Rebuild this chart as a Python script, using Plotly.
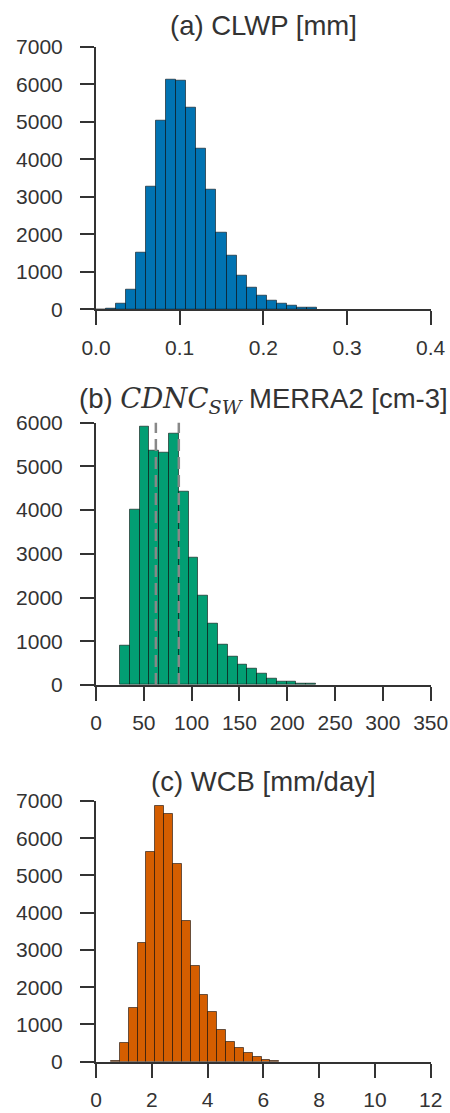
import plotly.graph_objects as go

# ---------------- data ----------------
# (a) CLWP [mm] histogram
clwp_left_edges = [0.000, 0.012, 0.024, 0.036, 0.048, 0.060, 0.072, 0.084, 0.096, 0.108,
                   0.120, 0.132, 0.144, 0.156, 0.168, 0.180, 0.192, 0.204, 0.216, 0.228,
                   0.240, 0.252]
clwp_counts = [0, 25, 140, 535, 1510, 3270, 5030, 6130, 6085, 5385,
               4280, 3180, 2045, 1420, 895, 585, 375, 230, 140, 95,
               55, 35]
clwp_bin_width = 0.012

# (b) CDNC_SW MERRA2 [cm-3] histogram
cdnc_left_edges = [25.0, 35.25, 45.5, 55.75, 66.0, 76.25, 86.5, 96.75, 107.0, 117.25,
                   127.5, 137.75, 148.0, 158.25, 168.5, 178.75, 189.0, 199.25, 209.5, 219.75]
cdnc_counts = [900, 4000, 5920, 5360, 5310, 5740, 4420, 2910, 2040, 1400,
               920, 650, 460, 380, 260, 150, 85, 70, 40, 25]
cdnc_bin_width = 10.25
cdnc_dashed_lines = [62.6, 86.6]

# (c) WCB [mm/day] histogram
wcb_left_edges = [0.54, 0.8575, 1.175, 1.4925, 1.81, 2.1275, 2.445, 2.7625, 3.08, 3.3975,
                  3.715, 4.0325, 4.35, 4.6675, 4.985, 5.3025, 5.62, 5.9375, 6.255]
wcb_counts = [30, 490, 1430, 3190, 5620, 6860, 6640, 5310, 3780, 2580,
              1790, 1340, 850, 540, 360, 230, 130, 50, 20]
wcb_bin_width = 0.3175

titles = ["(a) CLWP [mm]",
          "(b) <span style=\"font-family:DejaVu Serif\"><i>CDNC</i><sub><i>SW</i></sub></span> MERRA2 [cm-3]",
          "(c) WCB [mm/day]"]

x_ticks_a = [0.0, 0.1, 0.2, 0.3, 0.4]
x_ticks_b = [0, 50, 100, 150, 200, 250, 300, 350]
x_ticks_c = [0, 2, 4, 6, 8, 10, 12]
y_ticks_a = [0, 1000, 2000, 3000, 4000, 5000, 6000, 7000]
y_ticks_b = [0, 1000, 2000, 3000, 4000, 5000, 6000]
y_ticks_c = [0, 1000, 2000, 3000, 4000, 5000, 6000, 7000]

# ---------------- layout geometry (pixels) ----------------
W, H = 450, 1113
x_left, x_right = 96, 430.7
panels = [
    dict(edges=clwp_left_edges, counts=clwp_counts, bw=clwp_bin_width, color="#0173B2",
         top=46.7, bottom=309.3, xr=[0, 0.4], yr=[0, 7000], xt=x_ticks_a, yt=y_ticks_a,
         xfmt=".1f", title_y=26),
    dict(edges=cdnc_left_edges, counts=cdnc_counts, bw=cdnc_bin_width, color="#029E73",
         top=422.7, bottom=685.0, xr=[0, 350], yr=[0, 6000], xt=x_ticks_b, yt=y_ticks_b,
         xfmt="d", title_y=401),
    dict(edges=wcb_left_edges, counts=wcb_counts, bw=wcb_bin_width, color="#D55E00",
         top=801.0, bottom=1061.7, xr=[0, 12], yr=[0, 7000], xt=x_ticks_c, yt=y_ticks_c,
         xfmt="d", title_y=781),
]

axis_color = "#333333"
font_family = "Liberation Sans, Arial, sans-serif"

fig = go.Figure()
annotations = []
shapes = []
for i, p in enumerate(panels, start=1):
    xa = "x" if i == 1 else f"x{i}"
    ya = "y" if i == 1 else f"y{i}"
    fig.add_trace(go.Bar(
        x=p["edges"], y=p["counts"], width=p["bw"], offset=0,
        marker=dict(color=p["color"], line=dict(color="rgba(0,0,0,0.55)", width=1)),
        xaxis=xa, yaxis=ya, showlegend=False, hoverinfo="x+y",
    ))
    dom_y = [1 - p["bottom"] / H, 1 - p["top"] / H]
    common = dict(showline=True, linecolor=axis_color, linewidth=2, ticks="outside",
                  ticklen=14, tickwidth=2, tickcolor=axis_color, showgrid=False,
                  zeroline=False, automargin=False,
                  tickfont=dict(family=font_family, size=21, color=axis_color))
    fig.update_layout(**{
        ("xaxis" if i == 1 else f"xaxis{i}"): dict(
            domain=[x_left / W, x_right / W], range=p["xr"], anchor=ya,
            tickvals=p["xt"], tickformat=p["xfmt"], ticklabelstandoff=4, **common),
        ("yaxis" if i == 1 else f"yaxis{i}"): dict(
            domain=dom_y, range=p["yr"], anchor=xa,
            tickvals=p["yt"], tickformat="d", ticklabelstandoff=13, **common),
    })
    annotations.append(dict(
        text=titles[i - 1], xref="paper", yref="paper",
        x=(x_left + x_right) / 2 / W, y=1 - p["title_y"] / H,
        xanchor="center", yanchor="middle", showarrow=False,
        font=dict(family=font_family, size=27.5, color=axis_color)))

for xv in cdnc_dashed_lines:
    shapes.append(dict(type="line", xref="x2", yref="y2 domain", x0=xv, x1=xv, y0=0, y1=1,
                       line=dict(color="#888888", width=2.5, dash="12px,6px")))

fig.update_layout(
    width=W, height=H, margin=dict(l=0, r=0, t=0, b=0, autoexpand=False),
    paper_bgcolor="white", plot_bgcolor="white",
    bargap=0, annotations=annotations, shapes=shapes,
    font=dict(family=font_family, color=axis_color),
)

fig.write_html("out.html")
